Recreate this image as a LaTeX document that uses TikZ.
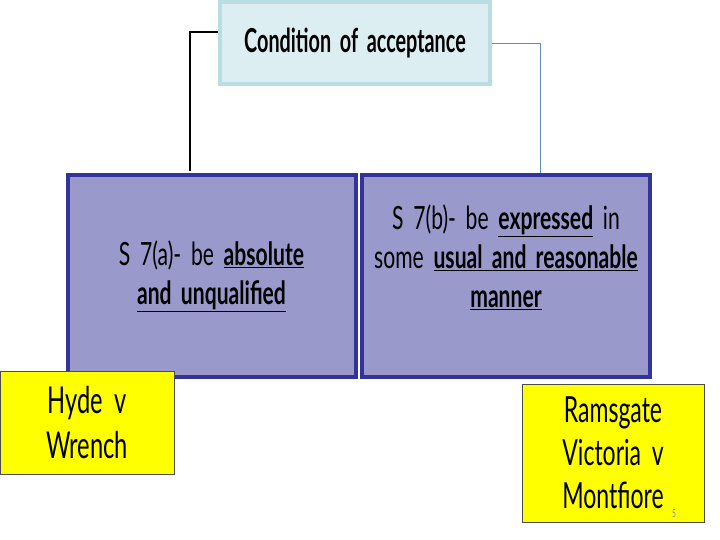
\documentclass[tikz,border=0pt]{standalone}
\usepackage{fontspec}
\setmainfont{Lato}[FakeStretch=0.6, WordSpace=1.8]
\newfontfamily\rulefont{Lato}[FakeStretch=0.66, WordSpace=1.8]
\newfontfamily\casefont{Lato}[FakeStretch=0.64, WordSpace=1.8]
\definecolor{topfill}{HTML}{DCEEF2}
\definecolor{topdraw}{HTML}{B8DDE3}
\definecolor{boxfill}{HTML}{9999CC}
\definecolor{boxdraw}{HTML}{333399}
\definecolor{linkblue}{HTML}{5F8FB0}
\definecolor{caseyellow}{HTML}{FFFF00}
\tikzset{
  topbox/.style={draw=topdraw, line width=4pt, fill=topfill, minimum width=270pt, minimum height=82pt, inner sep=0pt, font=\fontsize{33}{36}\selectfont},
  rulebox/.style={draw=boxdraw, line width=4pt, fill=boxfill, minimum width=288pt, minimum height=202pt, inner sep=0pt, align=center, font=\rulefont\fontsize{32}{39}\selectfont},
  casebox/.style={draw=black!70, line width=0.8pt, fill=caseyellow, inner sep=0pt, align=center},
}
\newcommand{\ul}[1]{\underline{\textbf{#1}}}
\begin{document}
\begin{tikzpicture}[x=1pt,y=-1pt]
\useasboundingbox (0,0) rectangle (720,540);
\node[topbox] (top) at (355,43) {\textbf{Condition of acceptance}};
\node[rulebox] (a) at (211.5,276) {S 7(a)- be \ul{absolute}\\\ul{and unqualified}};
\node[rulebox] (b) at (506,276) {S 7(b)- be \ul{expressed} in\\some \ul{usual and reasonable}\\\ul{manner}\\\mbox{}};
\node[casebox, minimum width=174pt, minimum height=103pt, font=\casefont\fontsize{37}{45}\selectfont] (hyde) at (87,422.5) {Hyde v\\Wrench};
\node[casebox, minimum width=182pt, minimum height=138pt, font=\casefont\fontsize{36}{43}\selectfont] (rams) at (613,453) {Ramsgate\\Victoria v\\Montfiore};
\node[font=\fontsize{11}{11}\selectfont, text=black!45, inner sep=0pt] (num) at (674,514) {5};
\draw[line width=2pt] (top.west |- 0,32) -- (190,32) -- (190,171);
\draw[linkblue, line width=0.8pt] (top.east) -- (540,43) -- (540,173);
\end{tikzpicture}
\end{document}
